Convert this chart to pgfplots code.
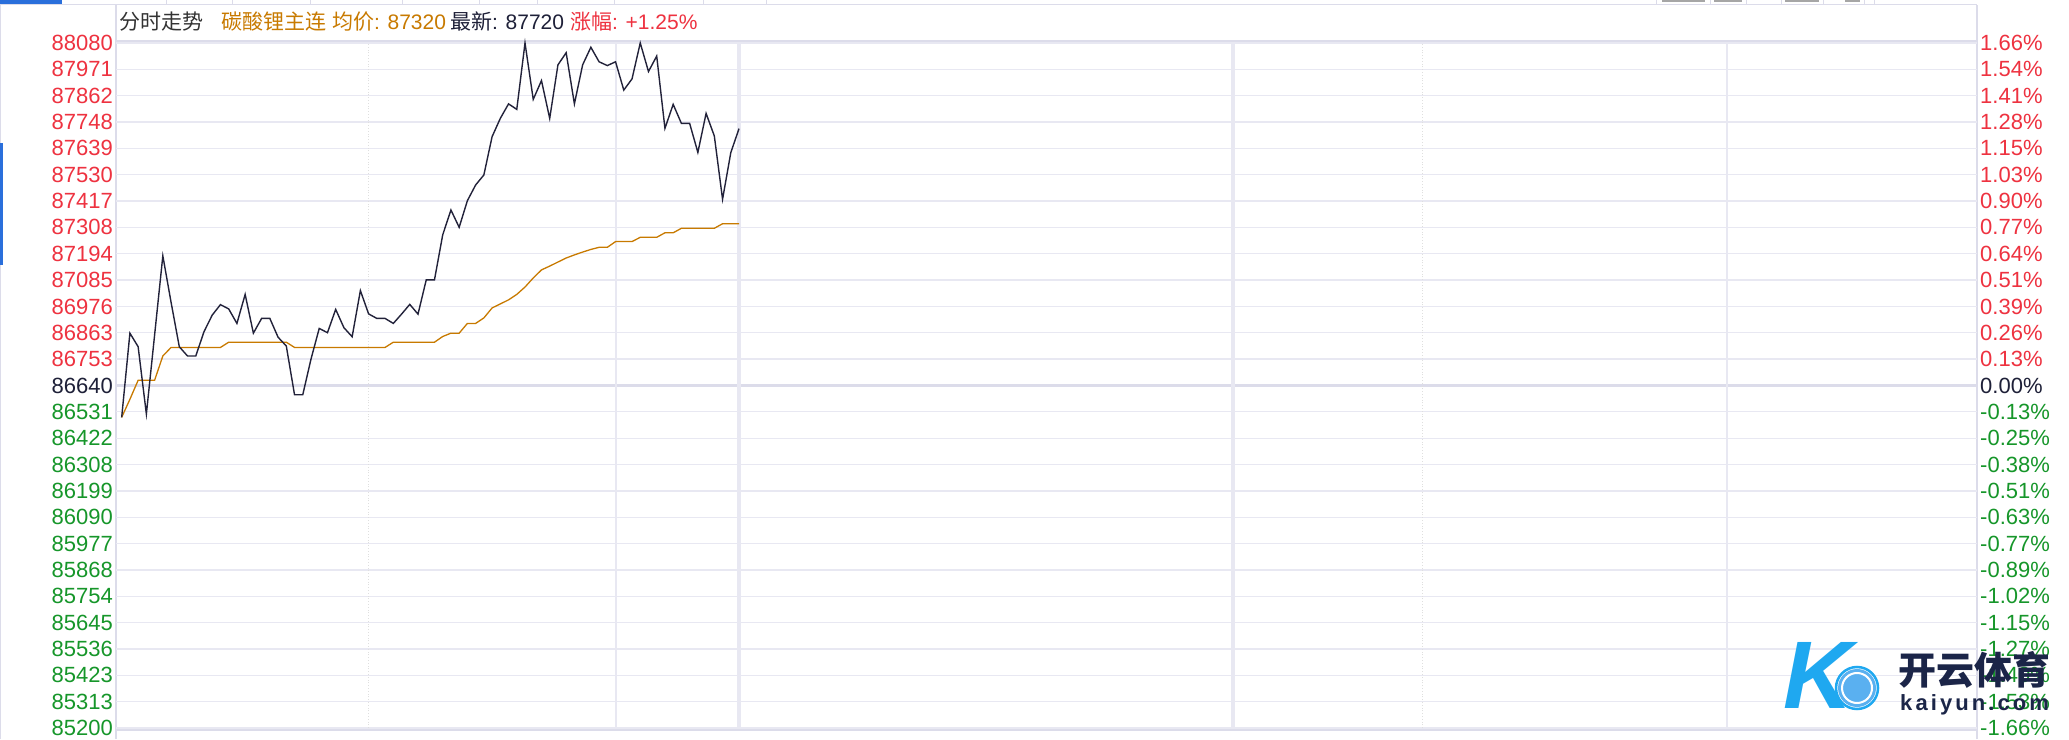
\documentclass[border=0pt]{standalone}
\usepackage{fontspec}
\usepackage{pgfplots}
\pgfplotsset{compat=1.18}
\setmainfont{Liberation Sans}
\newfontfamily\cjk{Noto Sans CJK SC}
\definecolor{gridc}{HTML}{E8E8F2}
\definecolor{framec}{HTML}{DCDCEA}
\definecolor{pricec}{HTML}{22223A}
\definecolor{avgc}{HTML}{C87A00}
\definecolor{upc}{HTML}{EE3240}
\definecolor{dnc}{HTML}{16962A}
\definecolor{zeroc}{HTML}{1E2038}
\definecolor{hdrc}{HTML}{333333}
\definecolor{wmc}{HTML}{1B2548}
\definecolor{tabblue}{HTML}{2A6FDB}
\definecolor{logoblue}{HTML}{1FA8F0}
\definecolor{ballblue}{HTML}{5AB0F0}
\newcommand{\U}[1]{\textcolor{upc}{#1}}
\newcommand{\D}[1]{\textcolor{dnc}{#1}}
\newcommand{\Z}[1]{\textcolor{zeroc}{#1}}
\begin{document}
\begin{tikzpicture}[x=1pt,y=1pt]
\useasboundingbox (0,0) rectangle (2069,739);
\fill[white] (0,0) rectangle (2069,739);
% top tab strip
\draw[framec, line width=1.5] (0,734.5) -- (1977,734.5);
\fill[tabblue] (0,735) rectangle (62,739);
\foreach \xx in {166,232,310,402,479,537,614,703,766,1656,1710,1746,1781,1823,1864,1874}{
  \draw[framec, line width=1] (\xx,735) -- (\xx,739);}
\fill[gray!70] (1662,736.5) rectangle (1705,739);
\fill[gray!70] (1714,736.5) rectangle (1742,739);
\fill[gray!70] (1785,736.5) rectangle (1819,739);
\fill[gray!70] (1845,736.5) rectangle (1860,739);
% left edge
\draw[framec, line width=1] (0.5,0) -- (0.5,734);
\fill[tabblue] (0,474) rectangle (2.5,596);
% panel borders
\draw[framec, line width=2] (115.5,0) -- (115.5,734);
\draw[framec, line width=2] (1977,0) -- (1977,734);
\draw[framec, line width=3] (115.5,697) -- (1977,697);
\draw[framec, line width=2] (115.5,9) -- (1977,9);
% header
\node[anchor=west, inner sep=0pt, font=\fontsize{21}{21}\selectfont] at (119,717)
 {\textcolor{hdrc}{\cjk 分时走势}\hspace{18pt}\textcolor{avgc}{{\cjk 碳酸锂主连} {\cjk 均价}: 87320}\hspace{4pt}\textcolor{zeroc}{{\cjk 最新}: 87720}\hspace{6pt}\textcolor{upc}{{\cjk 涨幅}: +1.25\%}};
\begin{axis}[
  at={(116pt,11pt)}, anchor=south west,
  scale only axis, width=1861pt, height=685pt,
  xmin=-0.69, xmax=225.4, ymin=85200, ymax=88080,
  axis line style={draw=none},
  clip=false,
  scaled y ticks=false, scaled x ticks=false,
  xtick=\empty,
  major tick length=0pt,
  ytick={85200,85310.77,85421.54,85532.31,85643.08,85753.85,85864.62,85975.38,86086.15,86196.92,86307.69,86418.46,86529.23,86640,86750.77,86861.54,86972.31,87083.08,87193.85,87304.62,87415.38,87526.15,87636.92,87747.69,87858.46,87969.23,88080},
  yticklabels={\D{85200},\D{85313},\D{85423},\D{85536},\D{85645},\D{85754},\D{85868},\D{85977},\D{86090},\D{86199},\D{86308},\D{86422},\D{86531},\Z{86640},\U{86753},\U{86863},\U{86976},\U{87085},\U{87194},\U{87308},\U{87417},\U{87530},\U{87639},\U{87748},\U{87862},\U{87971},\U{88080}},
  yticklabel style={font=\fontsize{22}{22}\selectfont, inner sep=0pt, anchor=east, xshift=-3pt},
  ymajorgrids, grid style={gridc, line width=1.3pt},
]
\draw[framec, line width=3pt] (axis cs:-0.69,86640) -- (axis cs:225.4,86640);
\draw[gray!25, line width=0.8pt, dotted] (axis cs:30,85200) -- (axis cs:30,88080);
\draw[gray!25, line width=0.8pt, dotted] (axis cs:158,85200) -- (axis cs:158,88080);
\draw[gridc, line width=2pt] (axis cs:60,85200) -- (axis cs:60,88080);
\draw[gridc, line width=2.5pt] (axis cs:195,85200) -- (axis cs:195,88080);
\draw[gridc, line width=4pt] (axis cs:75,85200) -- (axis cs:75,88080);
\draw[gridc, line width=4pt] (axis cs:135,85200) -- (axis cs:135,88080);
\addplot[avgc, line width=1.3pt] coordinates {
(0,86506)(1,86582)(2,86662)(3,86662)(4,86662)(5,86764)(6,86800)(7,86800)(8,86800)(9,86800)
(10,86800)(11,86800)(12,86800)(13,86822)(14,86822)(15,86822)(16,86822)(17,86822)(18,86822)(19,86822)
(20,86822)(21,86800)(22,86800)(23,86800)(24,86800)(25,86800)(26,86800)(27,86800)(28,86800)(29,86800)
(30,86800)(31,86800)(32,86800)(33,86822)(34,86822)(35,86822)(36,86822)(37,86822)(38,86822)(39,86846)
(40,86860)(41,86860)(42,86901)(43,86901)(44,86924)(45,86966)(46,86983)(47,87000)(48,87023)(49,87054)
(50,87092)(51,87126)(52,87142)(53,87159)(54,87176)(55,87189)(56,87201)(57,87212)(58,87221)(59,87221)
(60,87245)(61,87245)(62,87245)(63,87263)(64,87263)(65,87263)(66,87282)(67,87282)(68,87301)(69,87301)
(70,87301)(71,87301)(72,87301)(73,87320)(74,87320)(75,87320)};
\addplot[pricec, line width=1.4pt] coordinates {
(0,86506)(1,86860)(2,86803)(3,86520)(4,86852)(5,87185)(6,86990)(7,86803)(8,86764)(9,86764)
(10,86866)(11,86936)(12,86980)(13,86962)(14,86901)(15,87023)(16,86860)(17,86922)(18,86922)(19,86843)
(20,86806)(21,86601)(22,86601)(23,86751)(24,86880)(25,86862)(26,86960)(27,86883)(28,86845)(29,87039)
(30,86941)(31,86922)(32,86922)(33,86901)(34,86940)(35,86981)(36,86940)(37,87084)(38,87084)(39,87273)
(40,87378)(41,87305)(42,87417)(43,87483)(44,87525)(45,87686)(46,87763)(47,87824)(48,87801)(49,88080)
(50,87843)(51,87922)(52,87763)(53,87988)(54,88039)(55,87824)(56,87988)(57,88062)(58,88001)(59,87985)
(60,88001)(61,87882)(62,87929)(63,88080)(64,87960)(65,88025)(66,87721)(67,87822)(68,87742)(69,87742)
(70,87620)(71,87784)(72,87689)(73,87423)(74,87619)(75,87720)};
\end{axis}
\begin{axis}[
  at={(116pt,11pt)}, anchor=south west,
  scale only axis, width=1861pt, height=685pt,
  xmin=-0.69, xmax=225.4, ymin=85200, ymax=88080,
  axis y line*=right, axis x line=none,
  axis line style={draw=none},
  scaled y ticks=false, scaled x ticks=false,
  major tick length=0pt,
  ytick={85200,85310.77,85421.54,85532.31,85643.08,85753.85,85864.62,85975.38,86086.15,86196.92,86307.69,86418.46,86529.23,86640,86750.77,86861.54,86972.31,87083.08,87193.85,87304.62,87415.38,87526.15,87636.92,87747.69,87858.46,87969.23,88080},
  yticklabels={\D{-1.66\%},\D{-1.53\%},\D{-1.40\%},\D{-1.27\%},\D{-1.15\%},\D{-1.02\%},\D{-0.89\%},\D{-0.77\%},\D{-0.63\%},\D{-0.51\%},\D{-0.38\%},\D{-0.25\%},\D{-0.13\%},\Z{0.00\%},\U{0.13\%},\U{0.26\%},\U{0.39\%},\U{0.51\%},\U{0.64\%},\U{0.77\%},\U{0.90\%},\U{1.03\%},\U{1.15\%},\U{1.28\%},\U{1.41\%},\U{1.54\%},\U{1.66\%}},
  yticklabel style={font=\fontsize{22}{22}\selectfont, inner sep=0pt, anchor=west, xshift=3pt},
]
\addplot[draw=none] coordinates {(0,86640)};
\end{axis}
% watermark
\node[font=\bfseries\itshape\fontsize{96}{96}\selectfont, text=logoblue, inner sep=0pt] at (1818,64) {K};
\fill[ballblue] (1857,51) circle (19);
\draw[white, line width=2] (1857,51) circle (15);
\draw[logoblue, line width=2.5] (1857,51) circle (21);
\node[anchor=west, inner sep=0pt, text=wmc, font=\cjk\bfseries\fontsize{38}{38}\selectfont] at (1898,69) {开云体育};
\node[anchor=west, inner sep=0pt, text=wmc, font=\bfseries\fontsize{22}{22}\selectfont\addfontfeatures{LetterSpace=14}] at (1900,34) {kaiyun.com};
\end{tikzpicture}
\end{document}
